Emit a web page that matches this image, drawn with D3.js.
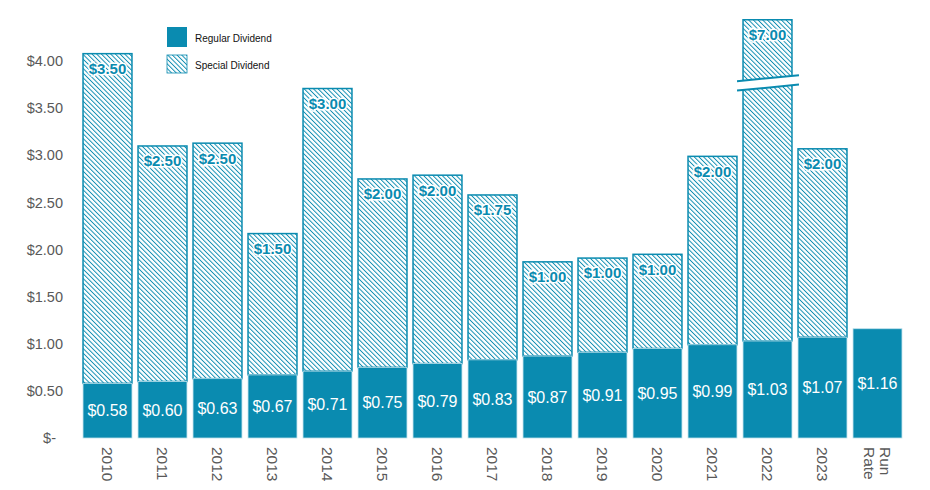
<!DOCTYPE html>
<html>
<head>
<meta charset="utf-8">
<script src="https://cdn.jsdelivr.net/npm/d3@7.9.0/dist/d3.min.js"></script>
<style>
  body { margin: 0; background: #fff; }
  svg { font-family: "Liberation Sans", Arial, sans-serif; }
</style>
</head>
<body>
<div id="chart"></div>
<script>
const years = ['2010','2011','2012','2013','2014','2015','2016','2017','2018','2019','2020','2021','2022','2023','Run Rate'];
const regular = [0.58,0.60,0.63,0.67,0.71,0.75,0.79,0.83,0.87,0.91,0.95,0.99,1.03,1.07,1.16];
const special = [3.50,2.50,2.50,1.50,3.00,2.00,2.00,1.75,1.00,1.00,1.00,2.00,7.00,2.00,0];
const yTicks = [0,0.5,1,1.5,2,2.5,3,3.5,4];
// broken axis for the oversized bar
const capValue = 4.44, breakValue = 3.77, breakGap = 0.1;

const width = 930, height = 490;
const teal = '#0a8bb0';
const gray = '#595959';

const data = years.map((y, i) => ({ year: y, regular: regular[i], special: special[i] }));

const svg = d3.select('#chart').append('svg')
  .attr('width', width).attr('height', height);

const defs = svg.append('defs');
defs.append('pattern')
  .attr('id', 'hatch')
  .attr('patternUnits', 'userSpaceOnUse')
  .attr('width', 3.3).attr('height', 3.3)
  .attr('patternTransform', 'rotate(-45)')
  .call(p => {
    p.append('rect').attr('width', 3.3).attr('height', 3.3).attr('fill', '#fff');
    p.append('line').attr('x1', 0).attr('y1', 0).attr('x2', 0).attr('y2', 3.3)
      .attr('stroke', teal).attr('stroke-width', 1.9);
  });

const x = d3.scaleBand().domain(years).range([80, 905]).paddingInner(0.11).paddingOuter(0.055);
const y = d3.scaleLinear().domain([0, 4]).range([438, 61.2]);

// y axis labels
svg.append('g').selectAll('text')
  .data(yTicks)
  .join('text')
  .attr('x', d => d === 0 ? 56 : 63)
  .attr('y', d => y(d))
  .attr('dy', '0.35em')
  .attr('text-anchor', 'end')
  .attr('font-size', 14.5)
  .attr('fill', gray)
  .text(d => d === 0 ? '$-' : d3.format('$.2f')(d));

const bars = svg.append('g').selectAll('g').data(data).join('g');

// special (hatched) segment
bars.filter(d => d.special > 0).append('rect')
  .attr('x', d => x(d.year))
  .attr('width', x.bandwidth())
  .attr('y', d => y(Math.min(d.regular + d.special, capValue)))
  .attr('height', d => y(d.regular) - y(Math.min(d.regular + d.special, capValue)))
  .attr('fill', 'url(#hatch)')
  .attr('stroke', teal)
  .attr('stroke-width', 1.5);

// regular segment
bars.append('rect')
  .attr('x', d => x(d.year))
  .attr('width', x.bandwidth())
  .attr('y', d => y(d.regular))
  .attr('height', d => y(0) - y(d.regular))
  .attr('fill', teal)
  .attr('stroke', '#bfe1ec')
  .attr('stroke-width', 0.8);

// axis break on the capped bar
const slant = 6;
bars.filter(d => d.regular + d.special > capValue).each(function (d) {
  const g = d3.select(this);
  const x0 = x(d.year) - 6, x1 = x(d.year) + x.bandwidth() + 7;
  const yTop = y(breakValue + breakGap / 2), yBot = y(breakValue - breakGap / 2);
  g.append('polygon')
    .attr('points', [[x0, yTop + slant / 2], [x1, yTop - slant / 2], [x1, yBot - slant / 2], [x0, yBot + slant / 2]].join(' '))
    .attr('fill', '#fff');
  [yTop, yBot].forEach(yy => {
    g.append('line')
      .attr('x1', x0).attr('y1', yy + slant / 2)
      .attr('x2', x1).attr('y2', yy - slant / 2)
      .attr('stroke', teal).attr('stroke-width', 2);
  });
});

// labels
bars.append('text')
  .attr('x', d => x(d.year) + x.bandwidth() / 2)
  .attr('y', d => (y(0) + y(d.regular)) / 2)
  .attr('dy', '0.36em')
  .attr('text-anchor', 'middle')
  .attr('font-size', 16)
  .attr('fill', '#fff')
  .text(d => d3.format('$.2f')(d.regular));

bars.filter(d => d.special > 0).append('text')
  .attr('x', d => x(d.year) + x.bandwidth() / 2)
  .attr('y', d => y(Math.min(d.regular + d.special, capValue)) + 15)
  .attr('dy', '0.36em')
  .attr('text-anchor', 'middle')
  .attr('font-size', 15)
  .attr('font-weight', 'bold')
  .attr('fill', teal)
  .attr('stroke', '#fff')
  .attr('stroke-width', 3)
  .attr('paint-order', 'stroke')
  .text(d => d3.format('$.2f')(d.special));

// x axis labels (rotated)
svg.append('g').selectAll('text')
  .data(years)
  .join('text')
  .attr('transform', d => `translate(${x(d) + x.bandwidth() / 2},447) rotate(90)`)
  .attr('font-size', 15.5)
  .attr('fill', gray)
  .each(function (d) {
    const parts = d.split(' ');
    const t = d3.select(this);
    parts.forEach((p, i) => {
      t.append('tspan')
        .attr('x', 0)
        .attr('y', (i - (parts.length - 1) / 2) * 16)
        .attr('dy', '0.35em')
        .text(p);
    });
  });

// legend
const legend = svg.append('g').attr('transform', 'translate(167,27)');
legend.append('rect').attr('width', 20).attr('height', 20).attr('fill', teal);
legend.append('text').attr('x', 28).attr('y', 11).attr('dy', '0.35em')
  .attr('font-size', 10).attr('fill', '#111').text('Regular Dividend');
legend.append('rect').attr('y', 28).attr('width', 20).attr('height', 18)
  .attr('fill', 'url(#hatch)').attr('stroke', teal).attr('stroke-width', 0.8);
legend.append('text').attr('x', 28).attr('y', 38).attr('dy', '0.35em')
  .attr('font-size', 10).attr('fill', '#111').text('Special Dividend');
</script>
</body>
</html>
